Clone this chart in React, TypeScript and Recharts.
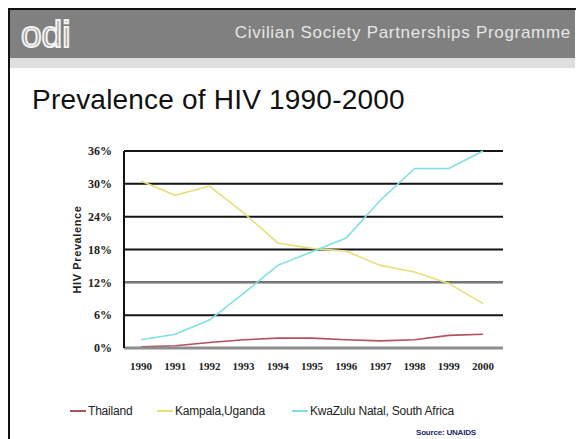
import { LineChart, Line, XAxis, YAxis, CartesianGrid, ReferenceLine, Legend } from "recharts";

const YEARS = ["1990", "1991", "1992", "1993", "1994", "1995", "1996", "1997", "1998", "1999", "2000"];
const THAILAND = [0.2, 0.4, 1.0, 1.5, 1.8, 1.8, 1.5, 1.3, 1.5, 2.3, 2.5];
const KAMPALA = [30.5, 27.9, 29.6, 24.7, 19.2, 18.2, 17.7, 15.1, 13.9, 11.8, 8.1];
const KWAZULU = [1.5, 2.5, 5.1, 10.0, 15.1, 17.6, 20.1, 27.0, 32.8, 32.8, 36.0];
const Y_TICKS = [0, 6, 12, 18, 24, 30, 36];

const SERIES = [
  { key: "thailand", name: "Thailand", color: "#b4505c" },
  { key: "kampala", name: "Kampala,Uganda", color: "#e8df7a" },
  { key: "kwazulu", name: "KwaZulu Natal, South Africa", color: "#7ee0e6" },
];

const data = YEARS.map((year, i) => ({
  year,
  thailand: THAILAND[i],
  kampala: KAMPALA[i],
  kwazulu: KWAZULU[i],
}));

const SERIF = "'Liberation Serif', 'DejaVu Serif', serif";
const SANS = "'Liberation Sans', Arial, sans-serif";

function LegendRow() {
  return (
    <div style={{ position: "relative", height: 20, fontFamily: SANS, fontSize: 12, color: "#222" }}>
      {SERIES.map((s, i) => (
        <div
          key={s.key}
          style={{
            position: "absolute",
            left: [70, 157, 292][i],
            top: 0,
            display: "flex",
            alignItems: "center",
            whiteSpace: "nowrap",
          }}
        >
          <span style={{ display: "inline-block", width: 16, height: 2, background: s.color, marginRight: 2 }} />
          <span style={{ letterSpacing: -0.2 }}>{s.name}</span>
        </div>
      ))}
    </div>
  );
}

export default function App() {
  return (
    <div
      style={{
        position: "absolute",
        left: 0,
        top: 0,
        width: 580,
        height: 439,
        background: "#fff",
        overflow: "hidden",
      }}
    >
      {/* slide frame + header */}
      <div style={{ position: "absolute", left: 8, top: 8, width: 568, height: 2, background: "#111" }} />
      <div style={{ position: "absolute", left: 8, top: 8, width: 2, height: 431, background: "#111" }} />
      <div style={{ position: "absolute", left: 10, top: 10, width: 565, height: 48, background: "#808080" }} />
      <div style={{ position: "absolute", left: 10, top: 58, width: 565, height: 10, background: "#dedede" }} />
      <svg style={{ position: "absolute", left: 0, top: 0 }} width={580} height={70}>
        <text x={21} y={47} fontFamily={SANS} fontSize={37} fill="#8c8c8c" stroke="#f2f2f2" strokeWidth={2}>
          odi
        </text>
        <text
          x={571}
          y={38}
          textAnchor="end"
          fontFamily={SANS}
          fontSize={17}
          letterSpacing={0.7}
          fill="#e6e6e6"
        >
          Civilian Society Partnerships Programme
        </text>
      </svg>
      <div
        style={{
          position: "absolute",
          left: 32,
          top: 84,
          fontFamily: SANS,
          fontSize: 28,
          letterSpacing: 0.2,
          color: "#111",
          whiteSpace: "nowrap",
          lineHeight: "32px",
        }}
      >
        Prevalence of HIV 1990-2000
      </div>

      <div style={{ position: "absolute", left: 0, top: 0 }}>
        <LineChart width={580} height={439} data={data} margin={{ top: 151, right: 77, bottom: 41, left: 0 }}>
          <CartesianGrid horizontal vertical={false} stroke="#151515" strokeWidth={2} />
          <ReferenceLine y={12} stroke="#7a7a7a" strokeWidth={2} />
          <XAxis
            dataKey="year"
            padding={{ left: 17, right: 20 }}
            axisLine={{ stroke: "#8e8e8e", strokeWidth: 3 }}
            tickLine={false}
            tickSize={0}
            tickMargin={14}
            height={30}
            interval={0}
            tick={{ fontFamily: SERIF, fontSize: 11, fontWeight: "bold", fill: "#222" }}
          />
          <YAxis
            domain={[0, 36]}
            ticks={Y_TICKS}
            width={124}
            tickFormatter={(v: number) => `${v}%`}
            axisLine={{ stroke: "#111", strokeWidth: 2 }}
            tickLine={false}
            tickSize={0}
            tickMargin={12}
            tick={{ fontFamily: SERIF, fontSize: 12, fontWeight: "bold", fill: "#222" }}
            label={{
              value: "HIV Prevalence",
              angle: -90,
              position: "center",
              dx: 15,
              style: { fontFamily: SANS, fontSize: 11, fontWeight: "bold", letterSpacing: 0.6, fill: "#222" },
            }}
          />
          {SERIES.map((s) => (
            <Line
              key={s.key}
              type="linear"
              dataKey={s.key}
              name={s.name}
              stroke={s.color}
              strokeWidth={1.6}
              dot={false}
              isAnimationActive={false}
            />
          ))}
          <Legend
            verticalAlign="bottom"
            content={() => <LegendRow />}
            wrapperStyle={{ left: 0, top: 404, width: 580 }}
          />
        </LineChart>
      </div>

      <div
        style={{
          position: "absolute",
          left: 416,
          top: 428,
          fontFamily: SANS,
          fontSize: 8,
          fontWeight: "bold",
          letterSpacing: -0.2,
          color: "#1c2a66",
          whiteSpace: "nowrap",
        }}
      >
        Source: UNAIDS
      </div>
    </div>
  );
}
